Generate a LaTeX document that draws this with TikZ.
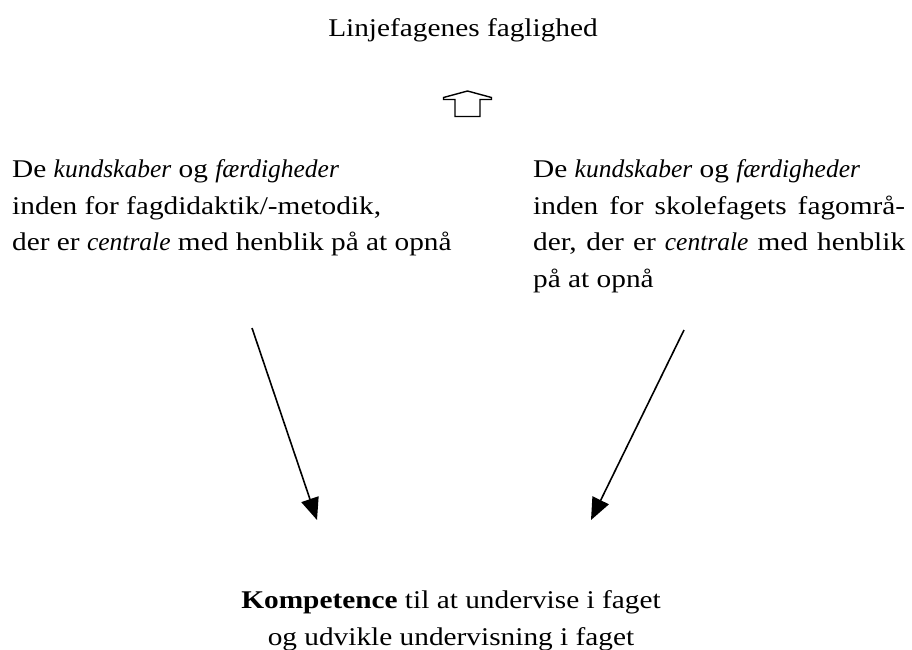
\documentclass[tikz,border=0pt]{standalone}
\usepackage{fontspec}
\setmainfont{Liberation Serif}[FakeStretch=1.15]
\newfontfamily\kursivfont{Liberation Serif}[FakeStretch=1.0]
\newcommand\kurs[1]{{\kursivfont\itshape #1}}
\usetikzlibrary{positioning}
\usetikzlibrary{arrows.meta}
\tikzset{
  plain/.style={inner sep=0pt,font=\fontsize{25.5}{36.5}\selectfont},
  block/.style={plain,align=left,anchor=north west},
  justblock/.style={plain,align=justify,text width=372pt,anchor=north west},
  goal/.style={plain,align=center,anchor=north},
  flow/.style={-{Triangle[length=22pt,width=18pt]},line width=1.6pt},
  hollow/.style={line width=1.4pt,line join=miter},
}
\begin{document}
\begin{tikzpicture}[x=1pt,y=-1pt]
  \useasboundingbox (0,0) rectangle (912,649);

  \node[plain,anchor=base] (titel) at (463,36) {Linjefagenes faglighed};
  \coordinate (pil) at (467.5,91);
  \draw[hollow] (pil) -- ++(24,6.5) -- ++(0,2) -- ++(-11.5,0)
      -- ++(0,17) -- ++(-25,0) -- ++(0,-17) -- ++(-11.5,0) -- ++(0,-2) -- cycle;

  \node[block] (didak) at (12,159.5)
      {De \kurs{kundskaber} og \kurs{færdigheder}\\
       inden for fagdidaktik/-metodik,\\
       der er \kurs{centrale} med henblik på at opnå};
  \node[justblock] (skole) at (533,159.5)
      {De \kurs{kundskaber} og \kurs{færdigheder}\newline
       inden for skolefagets fagområ-\linebreak
       der, der er \kurs{centrale} med henblik\linebreak
       på at opnå};

  \node[goal] (komp) at (451,590.5)
      {\textbf{Kompetence} til at undervise i faget\\
       og udvikle undervisning i faget};

  \coordinate (dstart) at (252,328);
  \coordinate (dend)   at (317,520);
  \coordinate (sstart) at (684,330);
  \coordinate (send)   at (591,520);
  \draw[flow] (dstart) -- (dend);
  \draw[flow] (sstart) -- (send);
\end{tikzpicture}
\end{document}
